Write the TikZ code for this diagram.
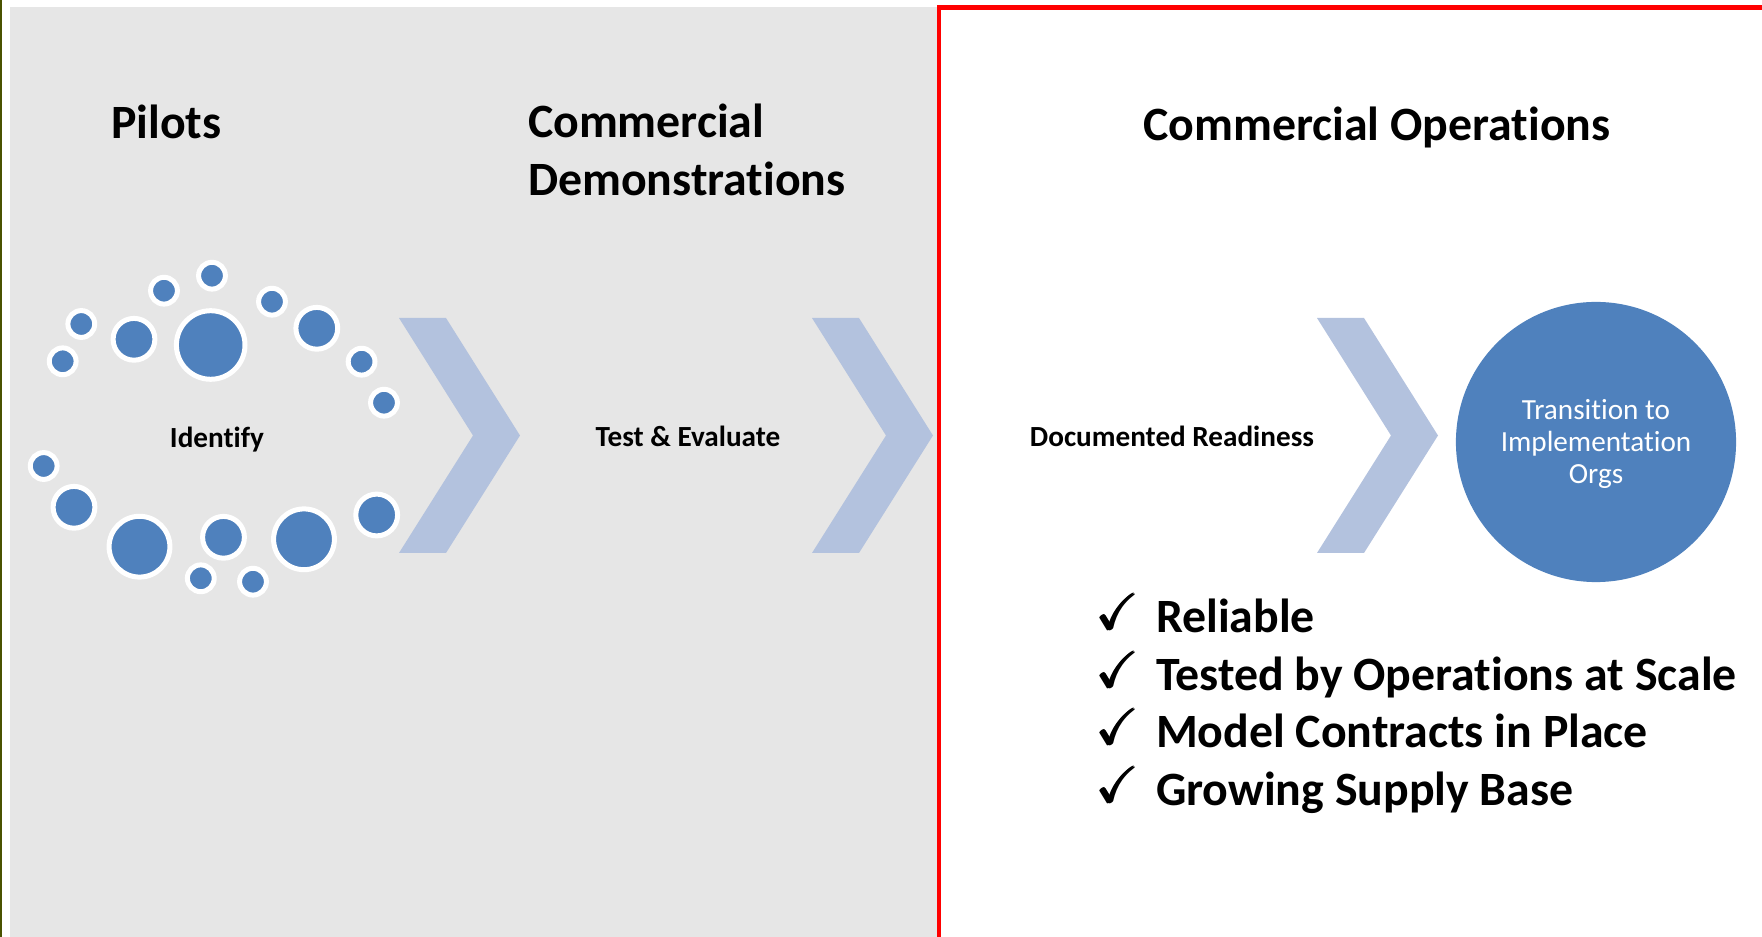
\documentclass[tikz,border=0pt]{standalone}
\usepackage{amsmath}
\usepackage{amssymb}
\usepackage{fontspec}
\setmainfont[Ligatures={NoCommon,NoRare}]{Carlito}
\definecolor{bubBlue}{HTML}{4F81BD}
\definecolor{chevBlue}{HTML}{B3C2DE}
\definecolor{paneGray}{HTML}{E6E6E6}
\definecolor{edgeOlive}{HTML}{4A5200}

\begin{document}
\begin{tikzpicture}[x = 0.01cm, y = -0.01cm, semithick,
    head/.style = {font=\bfseries\fontsize{13.6}{16.6}\selectfont, inner sep=0, align=left},
    lbl/.style = {font=\bfseries\fontsize{8.3}{10}\selectfont, inner sep=0, anchor=base},
    bubble/.style = {fill=bubBlue, draw=white, line width=0.05cm},
    chev/.style = {fill=chevBlue},
    tick/.style = {font=\fontsize{14.4}{14.4}\selectfont, inner sep=0, anchor=base}]
    \useasboundingbox (0, 0) rectangle (1762, 937) ;

    % panes %

    % grey pane (pilots + demos)
    \fill [paneGray] (10, 7) rectangle (937, 937) ;
    \draw [edgeOlive, line width=0.015cm] (1, 0) -- (1, 937) ;

    % red frame (operations)
    \draw [red, line width=0.047cm] (939, 937) -- (939, 7.5) -- (1762, 7.5) ;


    % headings %

    \node [head, anchor=base west] (hd-pilots) at (110, 138.5) {Pilots} ;
    \node [head, anchor=north west] (hd-demos) at (527, 103) {Commercial\\Demonstrations} ;
    \node [head, anchor=base] (hd-ops) at (1377, 140.5) {Commercial Operations} ;


    % chevrons %

    \fill [chev] (399, 318) -- ++(47, 0) -- ++(74, 117.5) -- ++(-74, 117.5)
                 -- ++(-47, 0) -- ++(74, -117.5) -- cycle ;
    \fill [chev] (812, 318) -- ++(47, 0) -- ++(74, 117.5) -- ++(-74, 117.5)
                 -- ++(-47, 0) -- ++(74, -117.5) -- cycle ;
    \fill [chev] (1317, 318) -- ++(47, 0) -- ++(74, 117.5) -- ++(-74, 117.5)
                 -- ++(-47, 0) -- ++(74, -117.5) -- cycle ;


    % bubbles round identify %

    % upper arc
    \draw [bubble] (210.7, 345) circle (34.3) ;
    \draw [bubble] (134, 339.3) circle (20.9) ;
    \draw [bubble] (81.3, 324) circle (13.4) ;
    \draw [bubble] (62.7, 361.3) circle (13.4) ;
    \draw [bubble] (164, 290.7) circle (13.4) ;
    \draw [bubble] (212, 275.7) circle (13.4) ;
    \draw [bubble] (272, 301.7) circle (13.4) ;
    \draw [bubble] (316.8, 328.3) circle (20.9) ;
    \draw [bubble] (361.6, 361.7) circle (13.4) ;
    \draw [bubble] (384, 402.7) circle (13.4) ;

    % lower arc
    \draw [bubble] (43.7, 466) circle (13.4) ;
    \draw [bubble] (74, 507.3) circle (20.9) ;
    \draw [bubble] (139.5, 546.7) circle (30.4) ;
    \draw [bubble] (223.5, 537.3) circle (20.9) ;
    \draw [bubble] (200.8, 578.3) circle (13.4) ;
    \draw [bubble] (253, 581.7) circle (13.4) ;
    \draw [bubble] (304, 539.3) circle (30.4) ;
    \draw [bubble] (376.7, 515) circle (20.9) ;


    % step labels %

    \node [lbl] (lbl-identify) at (217, 447.5) {Identify} ;
    \node [lbl] (lbl-test) at (688, 446.5) {Test \& Evaluate} ;
    \node [lbl] (lbl-ready) at (1172, 446.5) {Documented Readiness} ;

    % transition circle
    \node [circle, fill=bubBlue, minimum size=2.8cm, inner sep=0]
          (orgs) at (1596, 442) {} ;
    \node [text=white, align=center, inner sep=0,
          font=\fontsize{8.3}{9.1}\selectfont]
          (orgs-txt) at (1596, 443.5)
          {Transition to\\Implementation\\Orgs} ;


    % check list %

    \node [tick] (tick-1) at (1119, 630) {$\pmb{\checkmark}$} ;
    \node [head, anchor=base west] (item-1) at (1155, 633) {Reliable} ;

    \node [tick] (tick-2) at (1119, 688) {$\pmb{\checkmark}$} ;
    \node [head, anchor=base west] (item-2) at (1155, 690.5) {Tested by Operations at Scale} ;

    \node [tick] (tick-3) at (1119, 745) {$\pmb{\checkmark}$} ;
    \node [head, anchor=base west] (item-3) at (1155, 748) {Model Contracts in Place} ;

    \node [tick] (tick-4) at (1119, 803) {$\pmb{\checkmark}$} ;
    \node [head, anchor=base west] (item-4) at (1155, 806) {Growing Supply Base} ;

\end{tikzpicture}
\end{document}
